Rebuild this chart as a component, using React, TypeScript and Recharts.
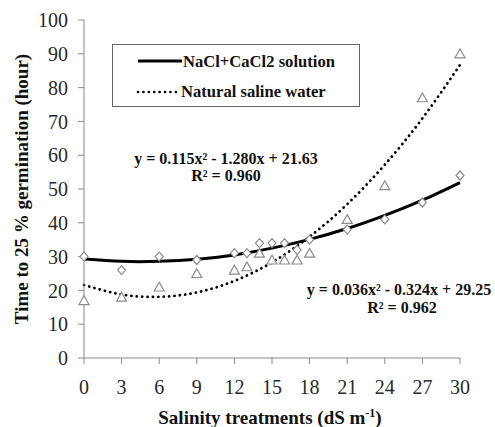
import { ComposedChart, Line, Scatter, XAxis, YAxis, Legend } from 'recharts';

const xTicks = [0, 3, 6, 9, 12, 15, 18, 21, 24, 27, 30];
const yTicks = [0, 10, 20, 30, 40, 50, 60, 70, 80, 90, 100];

// fitted curves, read at every 3 dS/m
const trendX = [0, 3, 6, 9, 12, 15, 18, 21, 24, 27, 30];
const naclTrend = [29.3, 28.6, 28.6, 29.2, 30.5, 32.5, 35.1, 38.3, 42.2, 46.7, 51.9];
const salineTrend = [21.6, 18.8, 18.1, 19.4, 22.8, 28.3, 35.9, 45.5, 57.2, 70.9, 86.7];

// observed points
const pointX = [0, 3, 6, 9, 12, 13, 14, 15, 16, 17, 18, 21, 24, 27, 30];
const naclPoints = [30, 26, 30, 29, 31, 31, 34, 34, 34, 32, 35, 38, 41, 46, 54];
const salinePoints = [17, 18, 21, 25, 26, 27, 31, 29, 29, 29, 31, 41, 51, 77, 90];

const trendData = trendX.map((x, i) => ({ x, nacl: naclTrend[i], saline: salineTrend[i] }));
const naclData = pointX.map((x, i) => ({ x, y: naclPoints[i] }));
const salineData = pointX.map((x, i) => ({ x, y: salinePoints[i] }));

const FONT = 'Liberation Serif';
const AXIS_GRAY = '#8a8a8a';
const MARKER_GRAY = '#8c8c8c';

const Diamond = (props: any) => {
  const { cx, cy } = props;
  if (cx == null || cy == null) return null;
  return (
    <polygon
      points={`${cx},${cy - 4.5} ${cx + 4},${cy} ${cx},${cy + 4.5} ${cx - 4},${cy}`}
      fill="#fff"
      stroke={MARKER_GRAY}
      strokeWidth={1.2}
    />
  );
};

const Triangle = (props: any) => {
  const { cx, cy } = props;
  if (cx == null || cy == null) return null;
  return (
    <polygon
      points={`${cx},${cy - 4.8} ${cx + 5},${cy + 4} ${cx - 5},${cy + 4}`}
      fill="#fff"
      stroke={MARKER_GRAY}
      strokeWidth={1.2}
    />
  );
};

const renderXTitle = (props: any) => {
  const vb = props.viewBox || {};
  const cx = vb.x + vb.width / 2;
  return (
    <text x={cx - 2} y={424} textAnchor="middle" style={{ fontFamily: FONT }} fontWeight="bold" fontSize={19} fill="#111">
      Salinity treatments (dS m
      <tspan dy={-7} fontSize={12}>-1</tspan>
      <tspan dy={7}>)</tspan>
    </text>
  );
};

const renderYTitle = () => (
  <text
    x={28}
    y={189}
    transform="rotate(-90, 28, 189)"
    textAnchor="middle"
    style={{ fontFamily: FONT }}
    fontWeight="bold"
    fontSize={19}
    fill="#111"
  >
    Time to 25 % germination (hour)
  </text>
);

const LegendBox = () => (
  <svg width={249} height={64} style={{ display: 'block', fontFamily: FONT }}>
    <rect x={0.5} y={0.5} width={247} height={62} fill="#fff" stroke="#666" strokeWidth={1} />
    <line x1={26} y1={17} x2={70} y2={17} stroke="#000" strokeWidth={3} />
    <text x={71} y={22.5} fontWeight="bold" fontSize={16.6} fill="#111">
      NaCl+CaCl2 solution
    </text>
    <line
      x1={26}
      y1={48}
      x2={66}
      y2={48}
      stroke="#000"
      strokeWidth={2.6}
      strokeDasharray="0.1 5.3"
      strokeLinecap="round"
    />
    <text x={69} y={52.5} fontWeight="bold" fontSize={16.6} fill="#111">
      Natural saline water
    </text>
  </svg>
);

export default function App() {
  const tick = { fill: '#2a2a2a', fontSize: 20, style: { fontFamily: FONT } };
  return (
    <div style={{ position: 'absolute', left: 0, top: 0, background: '#fff', fontFamily: FONT }}>
      <ComposedChart
        width={495}
        height={427}
        margin={{ top: 20, right: 35, left: 0, bottom: 0 }}
        style={{ fontFamily: FONT }}
      >
        <XAxis
          dataKey="x"
          type="number"
          domain={[0, 30]}
          ticks={xTicks}
          interval={0}
          height={69}
          tickSize={6}
          tickMargin={16}
          stroke={AXIS_GRAY}
          tick={tick}
          label={renderXTitle}
        />
        <YAxis
          type="number"
          domain={[0, 100]}
          ticks={yTicks}
          interval={0}
          width={84}
          tickSize={6}
          tickMargin={10}
          stroke={AXIS_GRAY}
          tick={tick}
          label={renderYTitle}
        />
        <Legend
          layout="vertical"
          align="center"
          verticalAlign="middle"
          content={() => <LegendBox />}
          wrapperStyle={{ left: 112, top: 44, width: 249, height: 64 }}
        />
        <Scatter data={naclData} dataKey="y" shape={Diamond} isAnimationActive={false} legendType="none" />
        <Scatter data={salineData} dataKey="y" shape={Triangle} isAnimationActive={false} legendType="none" />
        <Line
          data={trendData}
          dataKey="nacl"
          type="natural"
          stroke="#000"
          strokeWidth={3}
          dot={false}
          activeDot={false}
          isAnimationActive={false}
        />
        <Line
          data={trendData}
          dataKey="saline"
          type="natural"
          stroke="#000"
          strokeWidth={2.8}
          strokeDasharray="0.1 5.3"
          strokeLinecap="round"
          dot={false}
          activeDot={false}
          isAnimationActive={false}
        />
        <g style={{ fontFamily: FONT }} fontWeight="bold" fontSize={16} fill="#111" textAnchor="middle">
          <text x={226} y={164}>y = 0.115x² - 1.280x + 21.63</text>
          <text x={226} y={181}>R² = 0.960</text>
          <text x={399} y={295}>y = 0.036x² - 0.324x + 29.25</text>
          <text x={402} y={313}>R² = 0.962</text>
        </g>
      </ComposedChart>
    </div>
  );
}
